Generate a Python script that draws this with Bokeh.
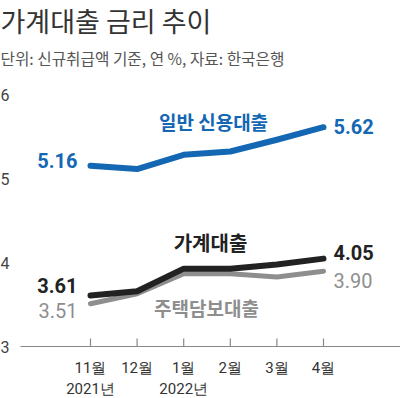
from bokeh.plotting import figure
from bokeh.models import Range1d
from bokeh.core.properties import value
from bokeh.embed import file_html
from bokeh.resources import INLINE

title = "가계대출 금리 추이"
subtitle = "단위: 신규취급액 기준, 연 %, 자료: 한국은행"
months = ["11월", "12월", "1월", "2월", "3월", "4월"]
years = ["2021년", "", "2022년", "", "", ""]
credit = [5.16, 5.12, 5.29, 5.33, 5.47, 5.62]
household = [3.61, 3.66, 3.93, 3.93, 3.98, 4.05]
mortgage = [3.51, 3.63, 3.87, 3.87, 3.83, 3.90]
y_ticks = [3, 4, 5, 6]
names = ["일반 신용대출", "가계대출", "주택담보대출"]

BLUE = "#1467b3"
BLACK = "#222222"
GRAY = "#8e8e8e"
KFONT = "Noto Sans CJK KR"
NFONT = "Roboto"

W, H = 400, 398
SX, SY = 46.6, 83.7
X0_REF, Y3_REF = 90, 346  # pixel of first month / value 3


def rx(x_ref):
    return (x_ref - X0_REF) / SX


def ry(y_ref):
    return 3 + (Y3_REF - y_ref) / SY


idx = list(range(len(months)))

p = figure(width=W, height=H, output_backend="svg", toolbar_location=None,
           x_axis_type=None, y_axis_type=None, min_border=0,
           x_range=Range1d(rx(0), rx(W)), y_range=Range1d(ry(H), ry(0)))
p.outline_line_color = None
p.background_fill_color = "white"
p.border_fill_color = "white"

# axis line and ticks
base = min(y_ticks)
p.segment(x0=[rx(20)], y0=[base], x1=[rx(400)], y1=[base], line_color="#888888", line_width=1.2)
p.segment(x0=idx, y0=[base] * len(idx), x1=idx, y1=[base + 8 / SY] * len(idx),
          line_color="#888888", line_width=1.2)

# y tick labels
p.text(x=[rx(0)] * len(y_ticks), y=y_ticks, text=[str(t) for t in y_ticks],
       text_font=value(NFONT), text_font_size="16px", text_color="#444444",
       text_align="left", text_baseline="middle")

# x labels
p.text(x=idx, y=[ry(367)] * len(idx), text=months, text_font=value(NFONT),
       text_font_size="15px", text_color="#333333", text_align="center", text_baseline="middle")
p.text(x=idx, y=[ry(388)] * len(idx), text=years, text_font=value(NFONT),
       text_font_size="15px", text_color="#333333", text_align="center", text_baseline="middle")

# lines
p.line(idx, credit, line_color=BLUE, line_width=6, line_cap="round", line_join="round")
p.line(idx, mortgage, line_color=GRAY, line_width=5, line_cap="round", line_join="round")
p.line(idx, household, line_color=BLACK, line_width=6, line_cap="round", line_join="round")

# end value labels
def vlabel(i, v, color, bold, align, dx, dy):
    p.text(x=[i], y=[v], text=[f"{v:.2f}"], text_font=value(NFONT), text_font_size="20px",
           text_font_style="bold" if bold else "normal", text_color=color,
           text_align=align, text_baseline="middle", x_offset=dx, y_offset=dy)

last = len(idx) - 1
vlabel(0, credit[0], BLUE, True, "right", -13, -5)
vlabel(last, credit[last], BLUE, True, "left", 10, -1)
vlabel(0, household[0], BLACK, True, "right", -13, -10)
vlabel(last, household[last], BLACK, True, "left", 10, -6)
vlabel(0, mortgage[0], GRAY, False, "right", -13, 7)
vlabel(last, mortgage[last], GRAY, False, "left", 10, 9)

# series names
p.text(x=[rx(213)], y=[ry(121)], text=[names[0]], text_font=value(KFONT), text_font_size="19px",
       text_font_style="bold", text_color=BLUE, text_align="center", text_baseline="middle")
p.text(x=[rx(210)], y=[ry(242)], text=[names[1]], text_font=value(KFONT), text_font_size="20px",
       text_font_style="bold", text_color=BLACK, text_align="center", text_baseline="middle")
p.text(x=[rx(206)], y=[ry(307)], text=[names[2]], text_font=value(KFONT), text_font_size="19px",
       text_font_style="bold", text_color=GRAY, text_align="center", text_baseline="middle")

# title and subtitle
p.text(x=[rx(0)], y=[ry(0)], text=[title], text_font=value(KFONT), text_font_size="27px",
       text_color="#333333", text_align="left", text_baseline="top")
p.text(x=[rx(0)], y=[ry(58)], text=[subtitle], text_font=value(KFONT), text_font_size="15.7px",
       text_color="#555555", text_align="left", text_baseline="middle")

open("out.html", "w").write(file_html(p, INLINE))
